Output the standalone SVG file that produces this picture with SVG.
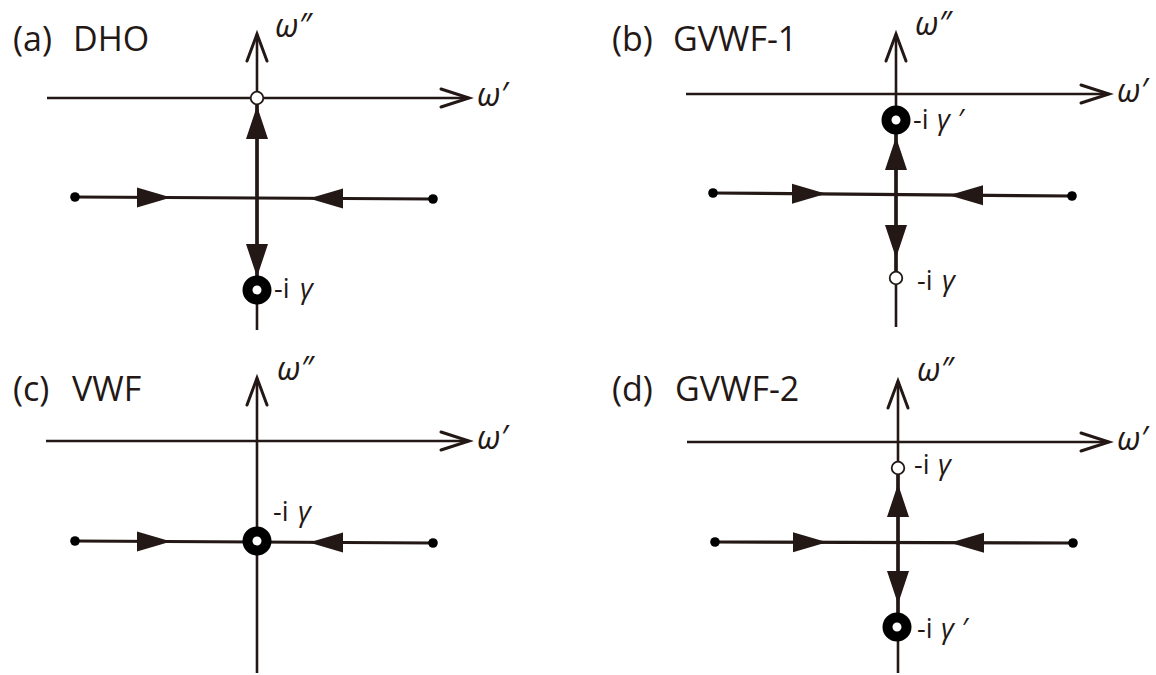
<svg xmlns="http://www.w3.org/2000/svg" xmlns:xlink="http://www.w3.org/1999/xlink" width="1156" height="675" viewBox="0 0 1156 675">
<style>
.ax{stroke:#231815;stroke-width:2.6;fill:none}
.tr{stroke:#231815;stroke-width:3.2;fill:none}
.th{stroke:#231815;stroke-width:3.6;fill:none}
.chev{stroke:#231815;stroke-width:3;fill:none;stroke-linecap:round;stroke-linejoin:miter}
.tri{fill:#231815}
.ring{fill:#fff;stroke:#000;stroke-width:10}
.open{fill:#fff;stroke:#231815;stroke-width:1.8}
.dot{fill:#000}
.title{font-family:"Open Sans","Noto Sans",sans-serif;font-size:34px;fill:#231815}
.om{font-family:"Open Sans","Noto Sans","DejaVu Sans",sans-serif;font-size:32px;font-style:italic;fill:#231815}
.lab{font-family:"Open Sans","Noto Sans",sans-serif;font-size:27px;fill:#231815}
.g{font-style:italic;font-size:28px}
</style>
<defs>
<path id="tR" class="tri" d="M0,-10 L34,0 L0,10 Z"/>
<path id="tL" class="tri" d="M0,-10 L-34,0 L0,10 Z"/>
<path id="tU" class="tri" d="M-11,0 L0,-33 L11,0 Z"/>
<path id="tD" class="tri" d="M-11,0 L0,33 L11,0 Z"/>
<path id="cU" class="chev" d="M-10,27 L0,0 L10,27"/>
<path id="cR" class="chev" d="M-28,-9 L0,0 L-28,9"/>
</defs>
<rect width="1156" height="675" fill="#fff"/>

<!-- Panel (a) -->
<g id="panel-a">
  <text class="title" x="13" y="51">(a)<tspan x="73">DHO</tspan></text>
  <g id="a-axes">
    <line class="ax" x1="257" y1="34" x2="257" y2="330"/>
    <line class="ax" x1="47" y1="98" x2="469" y2="98"/>
    <use xlink:href="#cU" x="257" y="34"/>
    <use xlink:href="#cR" x="469" y="98"/>
    <text class="om" x="275" y="37">ω″</text>
    <text class="om" x="477" y="106">ω′</text>
  </g>
  <g id="a-connectors">
    <line class="tr" x1="75" y1="197" x2="433" y2="199"/>
    <line class="th" x1="257" y1="98" x2="257" y2="290"/>
    <use xlink:href="#tR" x="137" y="197.4"/>
    <use xlink:href="#tL" x="343" y="198.6"/>
    <use xlink:href="#tU" x="257" y="139"/>
    <use xlink:href="#tD" x="257" y="244"/>
  </g>
  <g id="a-start-left"><circle class="dot" cx="75" cy="197" r="4.8"/></g>
  <g id="a-start-right"><circle class="dot" cx="433" cy="199" r="4.8"/></g>
  <g id="a-pole-origin"><circle class="open" cx="257" cy="98" r="6.3"/></g>
  <g id="a-pole-gamma">
    <circle class="ring" cx="257" cy="290" r="9.5"/>
    <text class="lab" x="274" y="298">-i<tspan class="g" x="300">γ</tspan></text>
  </g>
</g>

<!-- Panel (b) -->
<g id="panel-b">
  <text class="title" x="612" y="51">(b)<tspan x="673">GVWF-1</tspan></text>
  <g id="b-axes">
    <line class="ax" x1="896" y1="34" x2="896" y2="327"/>
    <line class="ax" x1="686" y1="94" x2="1109" y2="94"/>
    <use xlink:href="#cU" x="896" y="34"/>
    <use xlink:href="#cR" x="1109" y="94"/>
    <text class="om" x="915" y="35">ω″</text>
    <text class="om" x="1117" y="102">ω′</text>
  </g>
  <g id="b-connectors">
    <line class="tr" x1="713" y1="193" x2="1072" y2="196"/>
    <line class="th" x1="896" y1="120" x2="896" y2="278"/>
    <use xlink:href="#tR" x="792" y="193.7"/>
    <use xlink:href="#tL" x="983" y="195.3"/>
    <use xlink:href="#tU" x="896" y="170"/>
    <use xlink:href="#tD" x="896" y="225"/>
  </g>
  <g id="b-start-left"><circle class="dot" cx="713" cy="193" r="4.8"/></g>
  <g id="b-start-right"><circle class="dot" cx="1072" cy="196" r="4.8"/></g>
  <g id="b-pole-gammaprime">
    <circle class="ring" cx="896" cy="120" r="9.5"/>
    <text class="lab" x="913" y="129">-i<tspan class="g" x="937">γ ′</tspan></text>
  </g>
  <g id="b-pole-gamma">
    <circle class="open" cx="896" cy="278" r="6.3"/>
    <text class="lab" x="917" y="290">-i<tspan class="g" x="942">γ</tspan></text>
  </g>
</g>

<!-- Panel (c) -->
<g id="panel-c">
  <text class="title" x="13" y="401">(c)<tspan x="72">VWF</tspan></text>
  <g id="c-axes">
    <line class="ax" x1="257" y1="378" x2="257" y2="673"/>
    <line class="ax" x1="46" y1="441" x2="469" y2="441"/>
    <use xlink:href="#cU" x="257" y="378"/>
    <use xlink:href="#cR" x="469" y="441"/>
    <text class="om" x="277" y="380">ω″</text>
    <text class="om" x="477" y="449">ω′</text>
  </g>
  <g id="c-connectors">
    <line class="tr" x1="75" y1="541" x2="433" y2="543"/>
    <use xlink:href="#tR" x="137" y="541.4"/>
    <use xlink:href="#tL" x="343" y="542.6"/>
  </g>
  <g id="c-start-left"><circle class="dot" cx="75" cy="541" r="4.8"/></g>
  <g id="c-start-right"><circle class="dot" cx="433" cy="543" r="4.8"/></g>
  <g id="c-pole-gamma">
    <circle class="ring" cx="257" cy="541" r="9.5"/>
    <text class="lab" x="273" y="521">-i<tspan class="g" x="298">γ</tspan></text>
  </g>
</g>

<!-- Panel (d) -->
<g id="panel-d">
  <text class="title" x="612" y="401">(d)<tspan x="675">GVWF-2</tspan></text>
  <g id="d-axes">
    <line class="ax" x1="898" y1="381" x2="898" y2="673"/>
    <line class="ax" x1="687" y1="442" x2="1109" y2="442"/>
    <use xlink:href="#cU" x="898" y="381"/>
    <use xlink:href="#cR" x="1109" y="442"/>
    <text class="om" x="917" y="381">ω″</text>
    <text class="om" x="1117" y="450">ω′</text>
  </g>
  <g id="d-connectors">
    <line class="tr" x1="715" y1="542" x2="1073" y2="543"/>
    <line class="th" x1="898" y1="468" x2="898" y2="627"/>
    <use xlink:href="#tR" x="793" y="542.2"/>
    <use xlink:href="#tL" x="984" y="542.8"/>
    <use xlink:href="#tU" x="898" y="517"/>
    <use xlink:href="#tD" x="898" y="571"/>
  </g>
  <g id="d-start-left"><circle class="dot" cx="715" cy="542" r="4.8"/></g>
  <g id="d-start-right"><circle class="dot" cx="1073" cy="543" r="4.8"/></g>
  <g id="d-pole-gamma">
    <circle class="open" cx="898" cy="468" r="6.3"/>
    <text class="lab" x="914" y="474">-i<tspan class="g" x="938">γ</tspan></text>
  </g>
  <g id="d-pole-gammaprime">
    <circle class="ring" cx="897" cy="627" r="9.5"/>
    <text class="lab" x="917" y="638">-i<tspan class="g" x="941">γ ′</tspan></text>
  </g>
</g>
</svg>
